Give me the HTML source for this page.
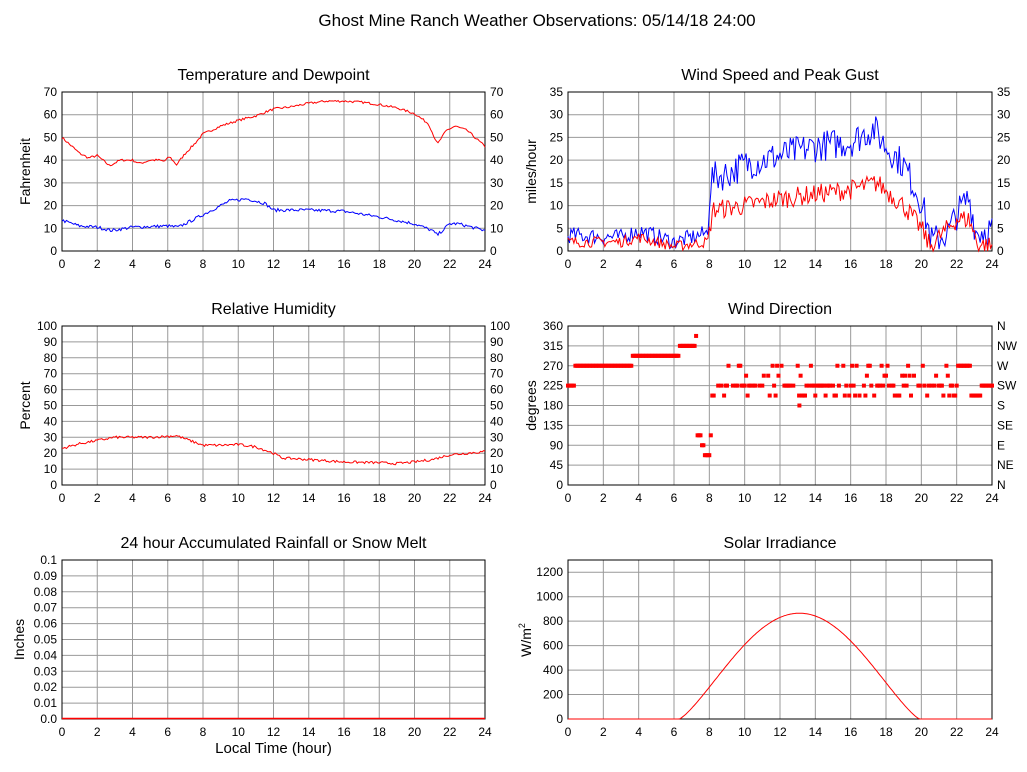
<!DOCTYPE html>
<html><head><meta charset="utf-8"><style>
html,body{margin:0;padding:0;background:#fff;width:1027px;height:772px;overflow:hidden}
svg{display:block}
text{font-family:"Liberation Sans",sans-serif;fill:#000}
</style></head><body>
<svg id="s" width="1027" height="772" viewBox="0 0 1027 772" xmlns="http://www.w3.org/2000/svg">
<text x="537" y="26" font-size="17" text-anchor="middle">Ghost Mine Ranch Weather Observations: 05/14/18 24:00</text>
</svg>
<script>
var S=document.getElementById('s');
var out='';
var seed=7;function rnd(){seed=(seed*16807)%2147483647;return seed/2147483647;}
function interp(k,t){for(var i=0;i<k.length-1;i++){if(t<=k[i+1][0]){var a=k[i],b=k[i+1],f=(t-a[0])/(b[0]-a[0]);return a[1]+f*(b[1]-a[1]);}}return k[k.length-1][1];}
function panel(L,T,W,H,ymax,ystep,title,ylab,right,xlab){
  var o='';
  o+='<text x="'+(L+W/2)+'" y="'+(T-12)+'" font-size="16" text-anchor="middle">'+title+'</text>';
  for(var h=0;h<=24;h+=2){var x=L+W*h/24;
    if(h>0&&h<24)o+='<line x1="'+x+'" y1="'+T+'" x2="'+x+'" y2="'+(T+H)+'" stroke="#999" stroke-width="1"/>';
    o+='<text x="'+x+'" y="'+(T+H+17)+'" font-size="12" text-anchor="middle">'+h+'</text>';}
  var n=Math.round(ymax/ystep);
  for(var i=0;i<=n;i++){var v=i*ystep;if(v>ymax+1e-9)break;var y=T+H-H*v/ymax;
    if(i>0&&v<ymax-1e-9)o+='<line x1="'+L+'" y1="'+y+'" x2="'+(L+W)+'" y2="'+y+'" stroke="#999" stroke-width="1"/>';
    var lab=v;
    if(ystep<1)lab=(Math.round(v*100)/100).toString(); if(ystep<1&&v===0)lab='0.0';
    o+='<text x="'+(L-5)+'" y="'+(y+4)+'" font-size="12" text-anchor="end">'+lab+'</text>';
    if(right){var rl=(right===true)?v:right[i];o+='<text x="'+(L+W+5)+'" y="'+(y+4)+'" font-size="12">'+rl+'</text>';}}
  o+='<rect x="'+L+'" y="'+T+'" width="'+W+'" height="'+H+'" fill="none" stroke="#000" stroke-width="1"/>';
  var cy=T+H/2;
  o+='<text transform="translate('+(L-(ystep<1?38:32))+','+cy+') rotate(-90)" font-size="14" text-anchor="middle">'+ylab+'</text>';
  if(xlab)o+='<text x="'+(L+W/2)+'" y="'+(T+H+34)+'" font-size="15" text-anchor="middle">'+xlab+'</text>';
  return o;}
function line(L,T,W,H,ymax,k,noise,col,step){
  step=step||1/12;var p=[];
  for(var t=0;t<=24.0001;t+=step){var nz=(typeof noise==='function')?noise(t):noise;var v=interp(k,t)+(rnd()-0.5)*2*nz;if(v<0)v=0;
    p.push((L+W*t/24).toFixed(1)+','+(T+H-H*v/ymax).toFixed(1));}
  return '<polyline points="'+p.join(' ')+'" fill="none" stroke="'+col+'" stroke-width="1"/>';}
var L=62,T=92,W=423,H=159;
out+=panel(L,T,W,H,70,10,'Temperature and Dewpoint','Fahrenheit',true);
out+=line(L,T,W,H,70,[[0,50],[0.5,46.5],[1,43],[1.5,41],[2,42],[2.7,37.5],[3.3,40],[4,40],[4.4,38.5],[5,40],[5.5,40],[5.8,39.5],[6.1,41.5],[6.5,38],[7,43],[7.5,47],[8,51.5],[9,55],[10,57.5],[11,59.5],[12,62.5],[13,63.5],[14,65],[15,66],[16,66],[17,65.5],[18,64.5],[19,63],[20,60.5],[20.8,56],[21.3,47],[21.8,53],[22.3,55],[23,53],[24,46]],0.5,'#f00',1/12);
out+=line(L,T,W,H,70,[[0,13.5],[1,11],[2,10.5],[2.8,9],[4,10.5],[6,11],[6.6,10.5],[7.5,14],[8.5,18],[9.5,22],[10.5,23],[11.5,21],[12,18],[14,18],[16,17.5],[18,15],[20,12],[21,9],[21.3,7],[22,12],[22.5,12],[24,9]],0.7,'#00f',1/12);
L=568;W=424;
out+=panel(L,T,W,H,35,5,'Wind Speed and Peak Gust','miles/hour',true);
out+=line(L,T,W,H,35,[[0,3.5],[3,3],[4,4.5],[6,2],[7,3],[7.9,4],[8.1,16],[9,17],[10,19],[12,21],[14,23],[16,24],[17.3,27],[18,23],[19,19],[20,11],[20.6,2],[21.5,4],[22,8],[22.7,12],[23.1,4],[24,5]],function(t){return t<8?1.8:3.5;},'#00f',1/12);
out+=line(L,T,W,H,35,[[0,2],[3,2],[4,3],[6,1],[7.9,2],[8.2,9],[10,10],[12,11.5],[14,12.5],[16,13.5],[17.5,15],[19,10],[20,5],[20.5,1],[22,7],[22.7,7],[23.2,1.5],[24,1]],function(t){return t<8?1.2:2.2;},'#f00',1/12);
L=62;W=423;T=326;
out+=panel(L,T,W,H,100,10,'Relative Humidity','Percent',true);
out+=line(L,T,W,H,100,[[0,23],[1,26],[2.5,29],[3,30],[5,30],[6.5,31],[8,25],[9,25],[10,25.5],[11,24],[12,20],[12.5,17],[14,16],[16,14.5],[18,14],[19,13.5],[20,14.5],[21,16],[22,19],[24,21]],0.8,'#f00',1/12);
L=568;W=424;
out+=panel(L,T,W,H,360,45,'Wind Direction','degrees',['N','NE','E','SE','S','SW','W','NW','N']);
function dot(t,d){var x=L+W*t/24,y=T+H-H*d/360;out+='<rect x="'+(x-2).toFixed(1)+'" y="'+(y-2)+'" width="4" height="4" fill="#f00"/>';}
for(var t=0;t<24;t+=1/12){var d;
  if(t<0.4)d=225;else if(t<3.6)d=270;else if(t<6.3)d=292.5;else if(t<7.2)d=315;
  else if(t<7.3)d=337.5;else if(t<7.55)d=112.5;else if(t<7.7)d=90;else if(t<8)d=67.5;else if(t<8.1)d=112.5;
  else if(t<8.3)d=202.5;else if(t<22)d=[202.5,225,225,225,247.5,270,202.5,225][Math.floor(rnd()*8)];
  else if(t<22.8)d=270;else if(t<23.4)d=202.5;else d=225;
  if(t>=8.3&&t<22&&rnd()<0.25)continue;
  dot(t,d);}
dot(13.1,180);
L=62;W=423;T=560;
out+=panel(L,T,W,H,0.1,0.01,'24 hour Accumulated Rainfall or Snow Melt','Inches',false,'Local Time (hour)');
out+='<line x1="'+L+'" y1="'+(T+H-0.5)+'" x2="'+(L+W)+'" y2="'+(T+H-0.5)+'" stroke="#f00" stroke-width="1.5"/>';
L=568;W=424;
out+=panel(L,T,W,H,1300,200,'Solar Irradiance','',false);
out+='<text transform="translate(531,640) rotate(-90)" font-size="14" text-anchor="middle">W/m<tspan font-size="9" dy="-6">2</tspan></text>';
var p=[];for(var t=0;t<=24.001;t+=1/12){var v=0;if(t>6.3&&t<19.9)v=865*Math.pow(Math.sin(Math.PI*(t-6.3)/13.6),1.25);
  p.push((L+W*t/24).toFixed(1)+','+(T+H-H*v/1300).toFixed(1));}
out+='<polyline points="'+p.join(' ')+'" fill="none" stroke="#f00" stroke-width="1"/>';
S.insertAdjacentHTML('beforeend',out);
</script>
</body></html>
